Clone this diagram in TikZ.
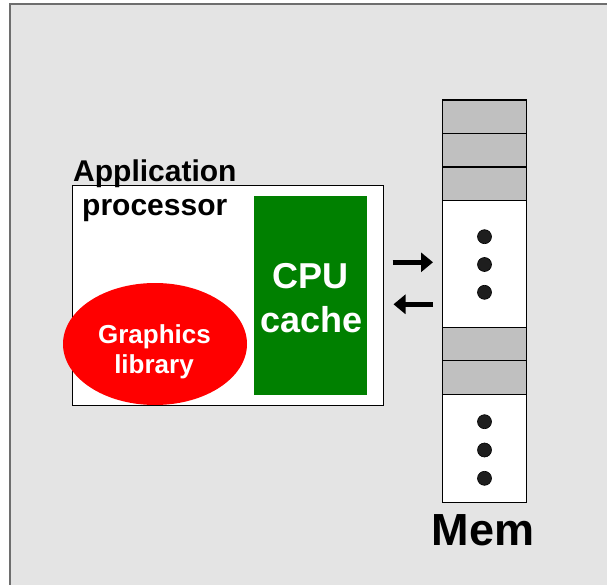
\documentclass[tikz,border=0pt]{standalone}
\usepackage{fontspec}
\setmainfont{Liberation Sans}
\usetikzlibrary{arrows.meta,shapes.geometric}
\definecolor{panelgray}{RGB}{228,228,228}
\definecolor{framegray}{RGB}{110,110,110}
\definecolor{cellgray}{RGB}{192,192,192}
\definecolor{cachegreen}{RGB}{0,128,0}
\definecolor{dotfill}{RGB}{30,30,30}
\begin{document}
\begin{tikzpicture}[x=1pt,y=-1pt,
  txt/.style={inner sep=0pt, anchor=base, font=\bfseries\fontsize{#1}{#1}\selectfont},
  txtl/.style={inner sep=0pt, anchor=base west, font=\bfseries\fontsize{#1}{#1}\selectfont},
  cell/.style={draw=black, line width=1.3pt, minimum width=84pt, minimum height=#1,
               inner sep=0pt, anchor=north west},
  grayblk/.style={cell=33.5pt, fill=cellgray},
  dotmark/.style={circle, fill=dotfill, draw=black, line width=0.6pt,
                  minimum size=14pt, inner sep=0pt},
  flow/.style={line width=4.5pt, -{Triangle[length=12pt,width=19pt]}}]

% page and background panel
\clip (0,0) rectangle (607,585);
\draw[framegray, line width=2pt, fill=panelgray] (10,4.5) rectangle (640,620);

% application processor
\node[draw=black, line width=0.8pt, fill=white, minimum width=311pt, minimum height=220pt,
      inner sep=0pt, anchor=north west] (app) at (72,185) {};
\node[txtl=30] (applbl1) at (73,182) {Application};
\node[txtl=30] (applbl2) at (82,216) {processor};

% CPU cache block
\node[fill=cachegreen, minimum width=113pt, minimum height=199pt, inner sep=0pt,
      anchor=north west] (cache) at (254,196) {};
\node[txt=36, white] (cachelbl1) at (310.5,288) {CPU};
\node[txt=36, white] (cachelbl2) at (311.5,332) {cache};

% graphics library
\node[ellipse, fill=red, minimum width=184pt, minimum height=122pt, inner sep=0pt]
      (gfx) at (155,344) {};
\node[txt=26, white] (gfxlbl1) at (154.5,343) {Graphics};
\node[txt=26, white] (gfxlbl2) at (154,373) {library};

% memory column
\node[grayblk] (m1) at (442,99.5) {};
\node[grayblk] (m2) at (442,133) {};
\node[grayblk] (m3) at (442,166.5) {};
\node[cell=126.5pt, fill=white] (m4) at (442,200) {};
\node[grayblk] (m5) at (442,326.5) {};
\node[grayblk] (m6) at (442,360) {};
\node[cell=108.5pt, fill=white] (m7) at (442,393.5) {};

\node[dotmark] (d1) at (484.5,236.7) {};
\node[dotmark] (d2) at (484.5,264.5) {};
\node[dotmark] (d3) at (484.5,292.3) {};
\node[dotmark] (d4) at (484.5,421.7) {};
\node[dotmark] (d5) at (484.5,450) {};
\node[dotmark] (d6) at (484.5,478.3) {};

\node[txt=45] (memlbl) at (483,545) {Mem};

% transfers between processor and memory
\coordinate (wr0) at (392.5,262.3);
\coordinate (wr1) at (433,262.3);
\coordinate (rd0) at (433,304.3);
\coordinate (rd1) at (393.5,304.3);
\draw[flow] (wr0) -- (wr1);
\draw[flow] (rd0) -- (rd1);
\end{tikzpicture}
\end{document}
